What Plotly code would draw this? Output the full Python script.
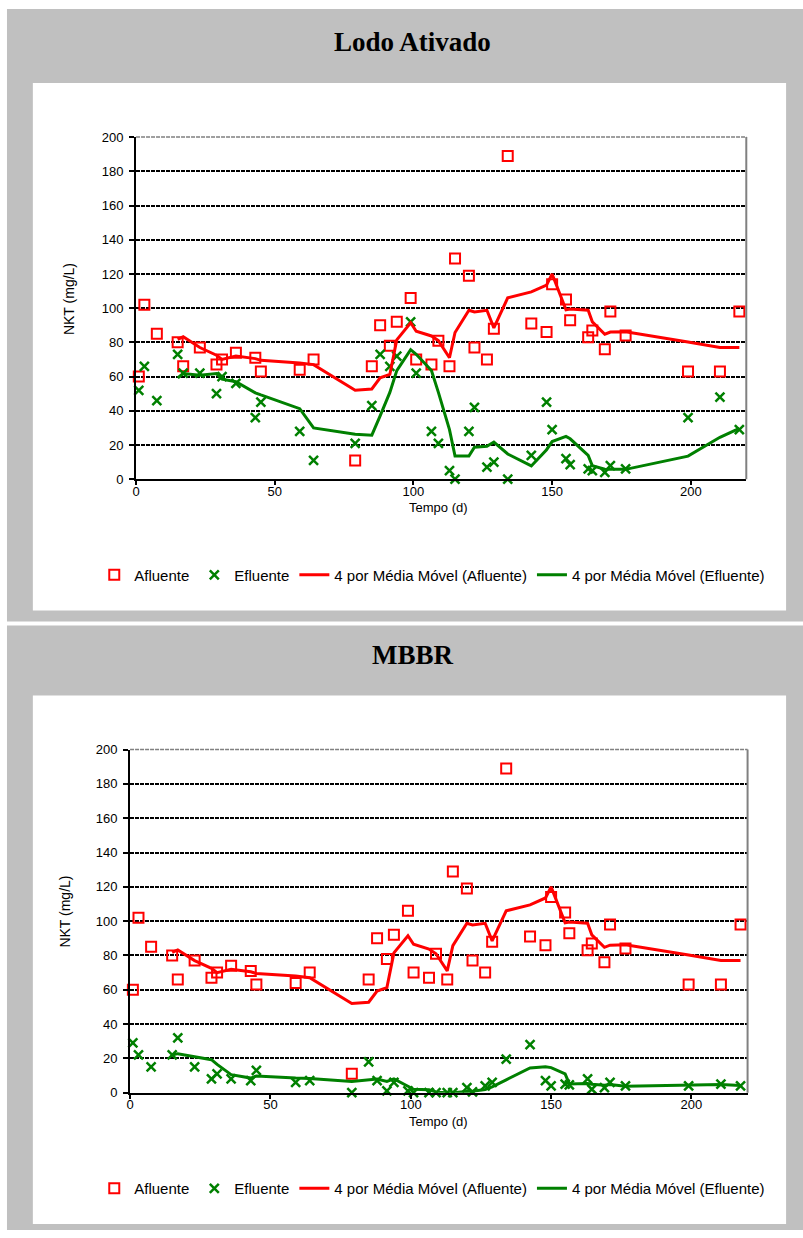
import plotly.graph_objects as go
import pandas as pd

# ---------------- data ----------------
days = [1, 3, 7.5, 15, 17, 23, 29, 31, 36, 43, 45, 59, 64, 79, 85, 88, 91.5, 94, 99, 101,
        106.5, 109, 113, 115, 120, 122, 126.5, 129, 134, 142.5, 148, 150, 155, 156.5, 163,
        164.5, 169, 171, 176.5, 199, 210.5, 217.5]

afluente = [60, 102, 85, 80, 66, 77, 67, 70, 74, 71, 63, 64, 70, 11, 66, 90, 78, 92, 106, 70,
            67, 81, 66, 129, 119, 77, 70, 88, 189, 91, 86, 114, 105, 93, 83,
            87, 76, 98, 84, 63, 63, 98]

efluente_lodo = [52, 66, 46, 73, 62, 62, 50, 60, 56, 36, 45, 28, 11, 21, 43, 73, 66, 72, 92, 62,
                 28, 21, 5, 0, 28, 42, 7, 10, 0, 14, 45, 29, 12, 8.5, 6,
                 5, 4, 8, 6, 36, 48, 29]

efluente_mbbr = [29, 22, 15, 22, 32, 15, 8, 11, 8, 7, 13, 6, 7, 0, 18, 7, 1, 6, 1, 0,
                 0, 0, 0, 0, 3, 0.5, 4, 6, 19.5, 28, 7, 4, 5, 4.5, 8,
                 2, 3, 6, 4, 4, 5, 4]

x_ticks = [0, 50, 100, 150, 200]
y_ticks = [0, 20, 40, 60, 80, 100, 120, 140, 160, 180, 200]

titles = ["Lodo Ativado", "MBBR"]
x_title = "Tempo (d)"
y_title = "NKT (mg/L)"
names = ["Afluente", "Efluente", "4 por Média Móvel (Afluente)", "4 por Média Móvel (Efluente)"]
ma_window = 4

# ---------------- styling ----------------
W, H = 803, 1238
RED = "#FF0000"
GREEN = "#008000"
GRAY = "#C0C0C0"
SANS = "Liberation Sans, Arial, sans-serif"
SERIF = "Liberation Serif, Times New Roman, serif"


def fx(p):
    return p / W


def fy(p):
    return 1 - p / H


fig = go.Figure()

panels = [
    dict(xa="x", ya="y", eff=efluente_lodo, legend="legend"),
    dict(xa="x2", ya="y2", eff=efluente_mbbr, legend="legend2"),
]

for pnl in panels:
    ma_af = pd.Series(afluente).rolling(ma_window).mean()
    ma_ef = pd.Series(pnl["eff"]).rolling(ma_window).mean()
    common = dict(xaxis=pnl["xa"], yaxis=pnl["ya"], legend=pnl["legend"])
    fig.add_trace(go.Scatter(
        x=days, y=afluente, mode="markers", name=names[0], cliponaxis=False,
        marker=dict(symbol="square-open", size=10, color=RED, line=dict(width=2, color=RED)),
        **common))
    fig.add_trace(go.Scatter(
        x=days, y=pnl["eff"], mode="markers", name=names[1], cliponaxis=False,
        marker=dict(symbol="x-thin-open", size=9, color=GREEN, line=dict(width=2.5, color=GREEN)),
        **common))
    fig.add_trace(go.Scatter(
        x=days, y=ma_af, mode="lines", name=names[2],
        line=dict(color=RED, width=3), **common))
    fig.add_trace(go.Scatter(
        x=days, y=ma_ef, mode="lines", name=names[3],
        line=dict(color=GREEN, width=3), **common))

xaxis_common = dict(range=[0, 220], tickvals=x_ticks, ticks="outside", ticklen=4, tickwidth=2,
                    tickcolor="black", showline=True, linecolor="black", linewidth=2,
                    showgrid=False, zeroline=False, ticklabelstandoff=-5,
                    tickfont=dict(family=SANS, size=13, color="black"), fixedrange=True)
yaxis_common = dict(range=[0, 200], tickvals=y_ticks, ticks="outside", ticklen=5, tickwidth=2,
                    tickcolor="black", showline=True, linecolor="black", linewidth=2,
                    showgrid=True, gridcolor="black", gridwidth=1.5, griddash="4px,1px",
                    zeroline=False, ticklabelstandoff=3,
                    tickfont=dict(family=SANS, size=13, color="black"), fixedrange=True)

legend_common = dict(orientation="h", x=0.536, xanchor="center", yanchor="middle",
                     font=dict(family=SANS, size=15, color="black"),
                     bgcolor="rgba(0,0,0,0)", itemwidth=30)

fig.update_layout(
    width=W, height=H, autosize=False,
    margin=dict(l=0, r=0, t=0, b=0),
    paper_bgcolor="white", plot_bgcolor=GRAY,
    xaxis=dict(domain=[fx(132.7), fx(746)], anchor="y", **xaxis_common),
    yaxis=dict(domain=[fy(478), fy(131.7)], anchor="x", **yaxis_common),
    xaxis2=dict(domain=[fx(126.7), fx(747.3)], anchor="y2", **xaxis_common),
    yaxis2=dict(domain=[fy(1099), fy(751.7)], anchor="x2", **yaxis_common),
    legend=dict(y=fy(575), **legend_common),
    legend2=dict(y=fy(1196), **legend_common),
)

shapes = [
    # outer gray chart areas
    dict(type="rect", xref="paper", yref="paper", x0=fx(3), x1=1, y0=fy(622), y1=fy(2),
         fillcolor=GRAY, line=dict(width=0), layer="below"),
    dict(type="rect", xref="paper", yref="paper", x0=fx(3), x1=1, y0=0, y1=fy(626),
         fillcolor=GRAY, line=dict(width=0), layer="below"),
    # inner white areas
    dict(type="rect", xref="paper", yref="paper", x0=fx(29), x1=fx(786), y0=fy(611), y1=fy(77),
         fillcolor="white", line=dict(width=0), layer="below"),
    dict(type="rect", xref="paper", yref="paper", x0=fx(29), x1=fx(786), y0=fy(1232), y1=fy(697),
         fillcolor="white", line=dict(width=0), layer="below"),
]
for xa in ["x", "x2"]:
    ya = "y" if xa == "x" else "y2"
    shapes.append(dict(type="line", xref=xa + " domain", yref=ya + " domain", x0=0, x1=1, y0=1, y1=1,
                       line=dict(color="#808080", width=1.5, dash="4px,1px"), layer="above"))
    shapes.append(dict(type="line", xref=xa + " domain", yref=ya + " domain", x0=1, x1=1, y0=0, y1=1,
                       line=dict(color="#808080", width=2), layer="above"))
fig.update_layout(shapes=shapes)

ann_common = dict(xref="paper", yref="paper", showarrow=False, xanchor="center", yanchor="middle")
annotations = [
    dict(text="<b>%s</b>" % titles[0], x=fx(411), y=fy(35),
         font=dict(family=SERIF, size=27, color="black"), **ann_common),
    dict(text="<b>%s</b>" % titles[1], x=fx(411), y=fy(656),
         font=dict(family=SERIF, size=27, color="black"), **ann_common),
    dict(text=x_title, x=fx(437), y=fy(507),
         font=dict(family=SANS, size=13, color="black"), **ann_common),
    dict(text=x_title, x=fx(437), y=fy(1128),
         font=dict(family=SANS, size=13, color="black"), **ann_common),
    dict(text=y_title, x=fx(66), y=fy(296), textangle=-90,
         font=dict(family=SANS, size=14, color="black"), **ann_common),
    dict(text=y_title, x=fx(61), y=fy(916), textangle=-90,
         font=dict(family=SANS, size=14, color="black"), **ann_common),
]
fig.update_layout(annotations=annotations)

fig.write_html("out.html", config={"displayModeBar": False},
               post_script="document.body.style.margin='0px';")
